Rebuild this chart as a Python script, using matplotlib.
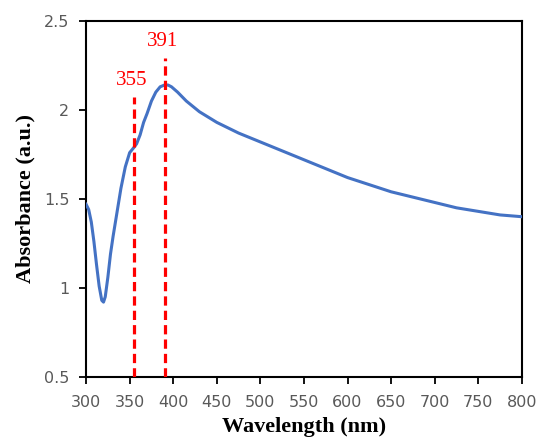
import numpy as np
import matplotlib.pyplot as plt

# 吸收光谱数据
wavelength = [300, 303, 306, 309, 312, 315, 318, 320, 322, 325, 328, 331, 335, 340, 345,
              350, 355, 358, 362, 366, 370, 375, 380, 385, 390, 394, 398, 405, 415, 430,
              450, 475, 500, 525, 550, 575, 600, 625, 650, 675, 700, 725, 750, 775, 800]
absorbance = [1.47, 1.44, 1.37, 1.26, 1.13, 1.01, 0.93, 0.92, 0.95, 1.06, 1.19, 1.29, 1.41, 1.56, 1.68,
              1.76, 1.79, 1.81, 1.86, 1.93, 1.98, 2.05, 2.10, 2.13, 2.14, 2.14, 2.13, 2.10, 2.05, 1.99,
              1.93, 1.87, 1.82, 1.77, 1.72, 1.67, 1.62, 1.58, 1.54, 1.51, 1.48, 1.45, 1.43, 1.41, 1.40]

peaks = [355, 391]
peak_tops = [2.07, 2.29]
peak_labels = ['355', '391']

plt.rcParams['font.family'] = ['DejaVu Sans']
fig = plt.figure(figsize=(5.38, 4.46), dpi=100)
ax = fig.add_axes([0.160, 0.155, 0.810, 0.798])

ax.plot(wavelength, absorbance, color='#4472C4', linewidth=2.2, zorder=3)

for p, top, lab in zip(peaks, peak_tops, peak_labels):
    ax.plot([p, p], [0.5, top], color='#FF0000', linewidth=2.3, linestyle=(0, (2.9, 1.6)), zorder=4)
    ax.text(p - 3, top + 0.04, lab, color='#FF0000', fontsize=15,
            family='Liberation Serif', ha='center', va='bottom')

ax.set_xlim(300, 800)
ax.set_ylim(0.5, 2.5)
ax.set_xticks(np.arange(300, 801, 50))
ax.set_yticks([0.5, 1, 1.5, 2, 2.5])
ax.set_yticklabels(['0.5', '1', '1.5', '2', '2.5'])

ax.tick_params(direction='out', length=5, width=1.3, colors='#000000',
               labelcolor='#595959', labelsize=11.5)
ax.tick_params(axis='x', pad=8)
ax.tick_params(axis='y', pad=7)
for s in ax.spines.values():
    s.set_linewidth(1.5)
    s.set_color('#000000')

ax.set_xlabel('Wavelength (nm)', family='Liberation Serif', fontweight='bold', fontsize=16, labelpad=5)
ax.set_ylabel('Absorbance (a.u.)', family='Liberation Serif', fontweight='bold', fontsize=16, labelpad=6)

fig.savefig('out.png', dpi=100)
